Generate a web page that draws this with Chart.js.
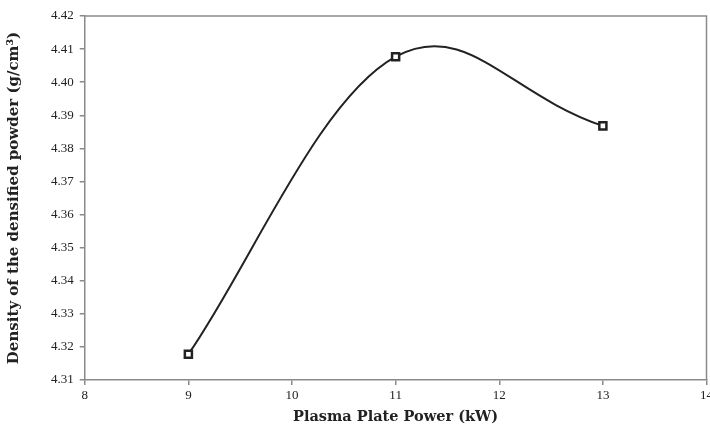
<!DOCTYPE html>
<html>
<head>
<meta charset="utf-8">
<script src="https://cdn.jsdelivr.net/npm/chart.js@4/dist/chart.umd.min.js"></script>
<style>
  html, body { margin: 0; padding: 0; background: #fff; overflow: hidden; }
  #wrap { width: 716px; height: 426px; }
</style>
</head>
<body>
<div id="wrap"><canvas id="grafico"></canvas></div>
<script>
// Potenza della piastra (kW) e densita' della polvere
const potenza = [9, 11, 13];
const densita = [4.3178, 4.4077, 4.3868];
const tickX = [8, 9, 10, 11, 12, 13, 14];
const tickY = [4.31, 4.32, 4.33, 4.34, 4.35, 4.36, 4.37, 4.38, 4.39, 4.40, 4.41, 4.42];

const punti = potenza.map((x, i) => ({ x: x, y: densita[i] }));
const invisibile = "rgba(0,0,0,0)";

// bordo grigio sopra e a destra dell'area del grafico
const bordo = {
    id: "bordo",
    afterDraw(chart) {
        const a = chart.chartArea;
        const c = chart.ctx;
        c.save();
        c.strokeStyle = "#8a8a8a";
        c.lineWidth = 1.5;
        c.beginPath();
        c.moveTo(a.left, a.top);
        c.lineTo(a.right, a.top);
        c.lineTo(a.right, a.bottom);
        c.stroke();
        c.restore();
    }
};

const ctx = document.getElementById("grafico").getContext("2d");
new Chart(ctx, {
    type: "line",
    data: {
        datasets: [{
            // primo tratto (9-11) e marcatori
            data: punti,
            borderColor: "#222",
            borderWidth: 2,
            tension: 0.3,
            segment: { borderColor: c => c.p0DataIndex >= 1 ? invisibile : undefined },
            pointStyle: "rect",
            pointRadius: 5,
            pointBorderWidth: 2.5,
            pointBorderColor: "#222",
            pointBackgroundColor: "#fff"
        }, {
            // secondo tratto (11-13), piu' curvo come la linea smussata di Excel
            data: punti,
            borderColor: "#222",
            borderWidth: 2,
            tension: 0.45,
            segment: { borderColor: c => c.p0DataIndex < 1 ? invisibile : undefined },
            pointRadius: 0
        }]
    },
    options: {
        responsive: true,
        maintainAspectRatio: false,
        animation: false,
        layout: { padding: { top: 16, right: 0, left: 5, bottom: 0 } },
        plugins: { legend: { display: false }, tooltip: { enabled: false } },
        scales: {
            x: {
                type: "linear",
                min: 8,
                max: 14,
                afterBuildTicks: s => { s.ticks = tickX.map(v => ({ value: v })); },
                ticks: { color: "#222", font: { family: "Liberation Serif", size: 13 }, padding: 3 },
                grid: { drawOnChartArea: false, tickLength: 5, color: "#8a8a8a", lineWidth: 1.5 },
                border: { color: "#8a8a8a", width: 1.5 },
                title: {
                    display: true,
                    text: "Plasma Plate Power (kW)",
                    color: "#222",
                    font: { family: "DejaVu Serif", size: 14.5, weight: "bold" },
                    padding: { top: 2, bottom: 0 }
                }
            },
            y: {
                min: 4.31,
                max: 4.42,
                afterBuildTicks: s => { s.ticks = tickY.map(v => ({ value: v })); },
                ticks: {
                    color: "#222",
                    font: { family: "Liberation Serif", size: 13 },
                    callback: v => v.toFixed(2),
                    padding: 6
                },
                grid: { drawOnChartArea: false, tickLength: 5, color: "#8a8a8a", lineWidth: 1.5 },
                border: { color: "#8a8a8a", width: 1.5 },
                title: {
                    display: true,
                    text: "Density of the densified powder (g/cm\u00b3)",
                    color: "#222",
                    font: { family: "DejaVu Serif", size: 15, weight: "bold" },
                    padding: { top: 0, bottom: 22 }
                }
            }
        }
    },
    plugins: [bordo]
});
</script>
</body>
</html>
